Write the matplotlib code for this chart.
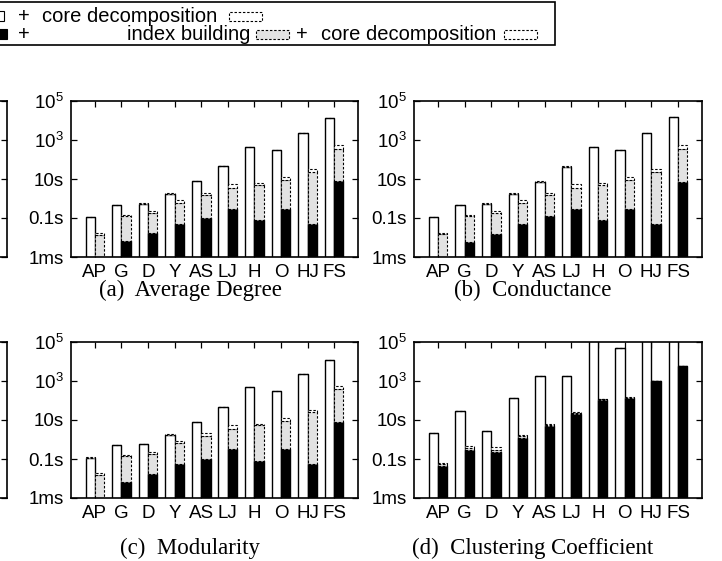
import matplotlib
matplotlib.use('Agg')
import matplotlib.pyplot as plt
from matplotlib.patches import Rectangle
from matplotlib.ticker import NullLocator, FixedLocator, FixedFormatter
import numpy as np

plt.rcParams['font.family'] = ['Liberation Sans', 'DejaVu Sans']
plt.rcParams['mathtext.fontset'] = 'custom'
plt.rcParams['mathtext.rm'] = 'Liberation Sans'
plt.rcParams['mathtext.it'] = 'Liberation Sans'
plt.rcParams['mathtext.bf'] = 'Liberation Sans'

# ---------------- data ----------------
datasets = ["AP", "G", "D", "Y", "AS", "LJ", "H", "O", "HJ", "FS"]
ytick_vals = [1e-3, 1e-1, 1e1, 1e3, 1e5]
ytick_labels = ["1ms", "0.1s", "10s", r"$\mathregular{10^3}$", r"$\mathregular{10^5}$"]

# (a) Average Degree
avg_white = [0.11, 0.45, 0.53, 1.8, 7.7, 44, 450, 300, 2240, 12900]
avg_black = [0.0008, 0.0069, 0.0165, 0.051, 0.10, 0.30, 0.08, 0.30, 0.051, 8.0]
avg_index = [0.0132, 0.116, 0.154, 0.55, 1.37, 3.2, 4.7, 8.4, 23, 357]
avg_core = [0.004, 0.026, 0.05, 0.21, 0.53, 1.9, 1.5, 3.3, 8, 160]

# (b) Conductance
con_white = [0.11, 0.45, 0.53, 1.73, 7.4, 42, 450, 300, 2240, 14400]
con_black = [0.0008, 0.0059, 0.0153, 0.051, 0.128, 0.30, 0.08, 0.30, 0.051, 7.1]
con_index = [0.0138, 0.117, 0.155, 0.55, 1.34, 3.2, 4.7, 8.4, 23, 358]
con_core = [0.0034, 0.026, 0.05, 0.21, 0.53, 1.9, 1.7, 3.9, 8, 160]

# (c) Modularity
mod_white = [0.117, 0.50, 0.56, 1.8, 7.6, 45, 475, 320, 2290, 12300]
mod_black = [0.0008, 0.0066, 0.017, 0.055, 0.104, 0.34, 0.076, 0.33, 0.055, 8.2]
mod_index = [0.015, 0.13, 0.163, 0.60, 1.48, 3.26, 5.2, 9.0, 24.5, 382]
mod_core = [0.0042, 0.029, 0.06, 0.21, 0.57, 1.9, 1.2, 3.3, 7.4, 160]

# (d) Clustering Coefficient
cc_white = [2.07, 27.8, 2.7, 129, 1870, 1800, 200000, 49000, 200000, 200000]
cc_black = [0.046, 0.28, 0.22, 1.2, 4.7, 19.5, 110, 135, 955, 5620]
cc_index = [0.009, 0.09, 0.08, 0.3, 1.0, 3.5, 3, 5, 45, 280]
cc_core = [0.007, 0.08, 0.13, 0.3, 0.8, 2.7, 4, 5, 50, 300]

captions = ["(a)  Average Degree", "(b)  Conductance", "(c)  Modularity",
            "(d)  Clustering Coefficient"]

legend_row1 = ["+", "core decomposition"]
legend_row2 = ["+", "index building", "+", "core decomposition"]

# ---------------- layout ----------------
W, H = 722, 561
fig = plt.figure(figsize=(W / 100, H / 100), dpi=100)


def rect(l, t, r, b):
    return [l / W, 1 - b / H, (r - l) / W, (b - t) / H]


def fx(x):
    return x / W


def fy(y):
    return 1 - y / H


FLOOR = 1e-7
GRAY = '#e2e2e2'
DASH = (0, (2.2, 1.6))


def style_axis(ax, labels=True):
    ax.set_yscale('log')
    ax.set_ylim(1e-3, 1e5)
    ax.set_xlim(-0.9, 9.9)
    ax.yaxis.set_major_locator(FixedLocator(ytick_vals))
    ax.yaxis.set_minor_locator(NullLocator())
    if labels:
        ax.yaxis.set_major_formatter(FixedFormatter(ytick_labels))
        ax.set_xticks(np.arange(len(datasets)))
        ax.set_xticklabels(datasets)
    else:
        ax.set_yticklabels([])
        ax.set_xticks([])
    ax.tick_params(axis='both', which='both', direction='in', top=True, right=True,
                   length=4, width=0.9, labelsize=13.5, pad=5)
    for s in ax.spines.values():
        s.set_linewidth(1.2)


def draw_panel(ax, white, black, index, core):
    x = np.arange(len(datasets))
    w = 0.35
    white = np.array(white, float)
    black = np.array(black, float)
    index = np.array(index, float)
    core = np.array(core, float)
    # bar 1: white + core decomposition
    ax.bar(x - w, white - FLOOR, width=w, bottom=FLOOR, align='edge', color='white',
           edgecolor='black', linewidth=1.0, zorder=2)
    ax.bar(x - w, core, width=w, bottom=white, align='edge', color='white',
           edgecolor='black', linewidth=0.8, linestyle=DASH, zorder=2)
    # bar 2: black + index building + core decomposition
    ax.bar(x, black - FLOOR, width=w, bottom=FLOOR, align='edge', color='black',
           edgecolor='black', linewidth=1.0, zorder=2)
    ax.bar(x, index, width=w, bottom=black, align='edge', color=GRAY,
           edgecolor='black', linewidth=0.8, linestyle=DASH, zorder=2)
    ax.bar(x, core, width=w, bottom=black + index, align='edge', color='white',
           edgecolor='black', linewidth=0.8, linestyle=DASH, zorder=2)
    style_axis(ax)


panels = [
    ((71, 101, 358, 257), (avg_white, avg_black, avg_index, avg_core), (190, 290)),
    ((414, 101, 702, 257), (con_white, con_black, con_index, con_core), (533, 290)),
    ((71, 342, 358, 498), (mod_white, mod_black, mod_index, mod_core), (190, 548)),
    ((414, 342, 702, 498), (cc_white, cc_black, cc_index, cc_core), (533, 548)),
]

for (box, data, cap_pos), cap in zip(panels, captions):
    ax = fig.add_axes(rect(*box))
    draw_panel(ax, *data)
    fig.text(fx(cap_pos[0]), fy(cap_pos[1]), cap, ha='center', va='center',
             family=['Liberation Serif', 'DejaVu Serif'], fontsize=16.5)

# partially visible neighbour panels on the left edge
for t, b in [(101, 257), (342, 498)]:
    axp = fig.add_axes(rect(-280, t, 7, b))
    style_axis(axp, labels=False)

# ---------------- legend (key) ----------------
fig.patches.append(Rectangle((fx(-10), fy(45)), fx(565), fy(2) - fy(45),
                             transform=fig.transFigure, facecolor='white',
                             edgecolor='black', linewidth=1.2, zorder=5))


def key_box(x0, y_mid, w, h, face, dashed):
    fig.patches.append(Rectangle((fx(x0), fy(y_mid + h / 2)), w / W, h / H,
                                 transform=fig.transFigure, facecolor=face,
                                 edgecolor='black', linewidth=0.8,
                                 linestyle=DASH if dashed else '-', zorder=6))


LFS = 14.5
r1, r2 = 16, 34
key_box(-7, r1, 11, 10, 'white', False)
fig.text(fx(24), fy(r1), legend_row1[0], ha='center', va='center', fontsize=LFS, zorder=7)
fig.text(fx(42), fy(r1), legend_row1[1], ha='left', va='center', fontsize=LFS, zorder=7)
key_box(229, r1, 33, 9, 'white', True)

key_box(-3, r2, 10, 10, 'black', False)
fig.text(fx(24), fy(r2), legend_row2[0], ha='center', va='center', fontsize=LFS, zorder=7)
fig.text(fx(250), fy(r2), legend_row2[1], ha='right', va='center', fontsize=LFS, zorder=7)
key_box(256, r2, 33, 9, GRAY, True)
fig.text(fx(302), fy(r2), legend_row2[2], ha='center', va='center', fontsize=LFS, zorder=7)
fig.text(fx(496), fy(r2), legend_row2[3], ha='right', va='center', fontsize=LFS, zorder=7)
key_box(504, r2, 33, 9, 'white', True)

fig.savefig('out.png', dpi=100)
